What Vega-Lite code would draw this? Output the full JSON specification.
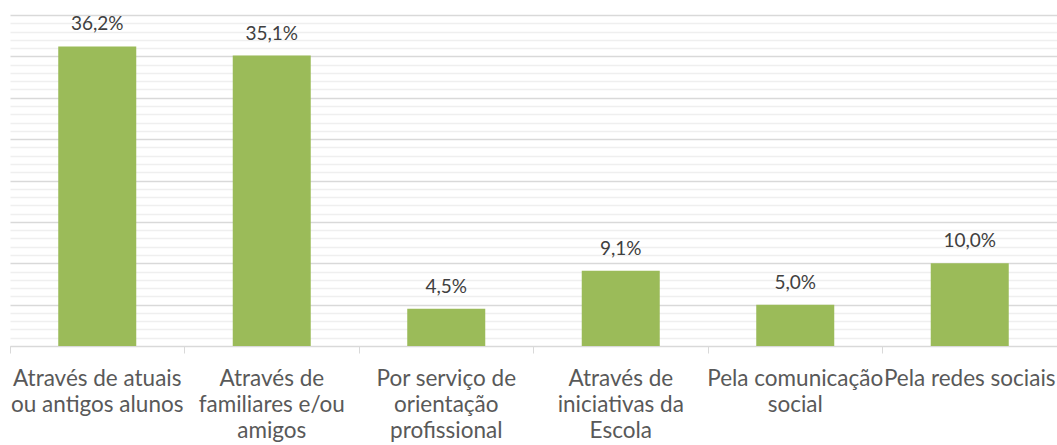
{
  "$schema": "https://vega.github.io/schema/vega-lite/v6.json",
  "autosize": "none",
  "padding": {"left": 10, "top": 15, "right": 0, "bottom": 99},
  "width": 1047,
  "height": 331,
  "background": "white",
  "config": {
    "locale": {"number": {"decimal": ",", "thousands": ".", "grouping": [3], "currency": ["", " €"]}},
    "view": {"stroke": null},
    "font": "Lato"
  },
  "data": {
    "values": [
      {"categoria": "Através de atuais ou antigos alunos", "pct": 0.362},
      {"categoria": "Através de familiares e/ou amigos", "pct": 0.351},
      {"categoria": "Por serviço de orientação profissional", "pct": 0.045},
      {"categoria": "Através de iniciativas da Escola", "pct": 0.091},
      {"categoria": "Pela comunicação social", "pct": 0.05},
      {"categoria": "Pela redes sociais", "pct": 0.10}
    ]
  },
  "encoding": {
    "x": {
      "field": "categoria",
      "type": "nominal",
      "sort": null,
      "scale": {"paddingInner": 0, "paddingOuter": 0},
      "axis": {
        "title": null,
        "labelAngle": 0,
        "bandPosition": 0,
        "domainColor": "#d9d9d9",
        "tickColor": "#d9d9d9",
        "tickSize": 7,
        "labelFont": "Lato",
        "labelFontSize": 22.5,
        "labelColor": "#595959",
        "labelLineHeight": 26,
        "labelPadding": 14,
        "labelBaseline": "top",
        "labelLimit": 400,
        "labelOverlap": false,
        "labelBound": false,
        "labelExpr": "datum.value == 'Através de atuais ou antigos alunos' ? ['Através de atuais', 'ou antigos alunos'] : datum.value == 'Através de familiares e/ou amigos' ? ['Através de', 'familiares e/ou', 'amigos'] : datum.value == 'Por serviço de orientação profissional' ? ['Por serviço de', 'orientação', 'profissional'] : datum.value == 'Através de iniciativas da Escola' ? ['Através de', 'iniciativas da', 'Escola'] : datum.value == 'Pela comunicação social' ? ['Pela comunicação', 'social'] : datum.value"
      }
    },
    "y": {
      "field": "pct",
      "type": "quantitative",
      "scale": {"domain": [0, 0.4], "nice": false},
      "axis": {
        "title": null,
        "labels": false,
        "ticks": false,
        "domain": false,
        "values": [0, 0.01, 0.02, 0.03, 0.04, 0.05, 0.06, 0.07, 0.08, 0.09, 0.1, 0.11, 0.12, 0.13, 0.14, 0.15, 0.16, 0.17, 0.18, 0.19, 0.2, 0.21, 0.22, 0.23, 0.24, 0.25, 0.26, 0.27, 0.28, 0.29, 0.3, 0.31, 0.32, 0.33, 0.34, 0.35, 0.36, 0.37, 0.38, 0.39, 0.4],
        "gridColor": {"condition": {"test": "round(datum.value * 100) % 5 === 0", "value": "#d9d9d9"}, "value": "#efefef"},
        "gridWidth": 1.3
      }
    }
  },
  "layer": [
    {
      "mark": {"type": "bar", "color": "#9bbb59", "width": {"band": 0.447}}
    },
    {
      "mark": {"type": "text", "font": "Lato", "fontSize": 19, "color": "#404040", "baseline": "alphabetic", "dy": -16},
      "encoding": {"text": {"field": "pct", "type": "quantitative", "format": ".1%"}}
    }
  ]
}
